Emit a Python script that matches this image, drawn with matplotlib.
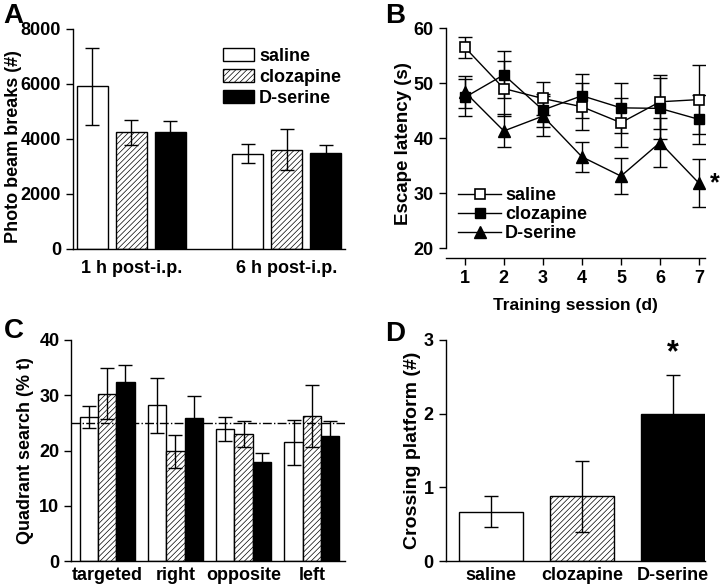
import numpy as np
import matplotlib.pyplot as plt
from matplotlib.lines import Line2D

plt.rcParams['font.family'] = ['Liberation Sans', 'DejaVu Sans']
plt.rcParams['font.weight'] = 'bold'
plt.rcParams['font.size'] = 13
plt.rcParams['axes.labelweight'] = 'bold'
plt.rcParams['hatch.linewidth'] = 0.5
plt.rcParams['axes.linewidth'] = 1.0

groups = ['saline', 'clozapine', 'D-serine']

# panel A
a_times = ['1 h post-i.p.', '6 h post-i.p.']
a_mean = {'saline': [5900, 3460], 'clozapine': [4240, 3600], 'D-serine': [4240, 3470]}
a_err = {'saline': [1410, 340], 'clozapine': [455, 740], 'D-serine': [410, 305]}

# panel B
b_days = [1, 2, 3, 4, 5, 6, 7]
b_saline = [56.5, 49.0, 47.2, 45.7, 42.8, 46.6, 47.0]
b_saline_err = [1.9, 5.0, 3.0, 4.3, 4.4, 4.9, 6.2]
b_cloz = [47.4, 51.5, 45.1, 47.7, 45.5, 45.4, 43.4]
b_cloz_err = [3.3, 4.3, 3.0, 4.0, 4.6, 5.5, 4.5]
b_dser = [48.4, 41.3, 44.0, 36.6, 33.1, 39.2, 31.8]
b_dser_err = [2.9, 3.0, 3.7, 2.7, 3.2, 4.4, 4.4]

# panel C
c_quad = ['targeted', 'right', 'opposite', 'left']
c_mean = {'saline': [26.0, 28.2, 23.9, 21.5], 'clozapine': [30.3, 19.9, 23.0, 26.3],
          'D-serine': [32.3, 25.9, 18.0, 22.6]}
c_err = {'saline': [2.0, 5.0, 2.1, 4.1], 'clozapine': [4.6, 3.0, 2.4, 5.6],
         'D-serine': [3.2, 4.0, 1.5, 2.7]}
chance = 25

# panel D
d_mean = [0.67, 0.88, 2.0]
d_err = [0.21, 0.48, 0.53]

face = {'saline': 'white', 'clozapine': 'white', 'D-serine': 'black'}
hatch = {'saline': None, 'clozapine': '//////', 'D-serine': None}
ekw = dict(fmt='none', ecolor='k', elinewidth=1, capsize=5, capthick=1, zorder=5)


def clean(ax):
    ax.spines['top'].set_visible(False)
    ax.spines['right'].set_visible(False)
    ax.tick_params(direction='out', length=5, width=1, labelsize=13)


def ylab(ax, text, size, xy):
    ax.set_ylabel(text, fontsize=size)
    ax.yaxis.set_label_coords(*xy)
    ax.yaxis.label.set_va('center')


fig = plt.figure(figsize=[7.2, 5.84], dpi=100)

# A
ax1 = fig.add_axes([0.101, 0.574, 0.378, 0.377])
x = np.arange(len(a_times))
for i, g in enumerate(groups):
    xs = x + (i - 1)*0.251
    ax1.bar(xs, a_mean[g], 0.2, color=face[g], edgecolor='k', hatch=hatch[g], linewidth=1, label=g)
    ax1.errorbar(xs, a_mean[g], yerr=a_err[g], **ekw)
ax1.set_xlim(-0.376, 1.373)
ax1.set_ylim(0, 8000)
ax1.set_yticks([0, 2000, 4000, 6000, 8000])
ax1.set_xticks(x)
ax1.set_xticklabels(a_times)
ylab(ax1, 'Photo beam breaks (#)', 13, (-0.219, 0.464))
clean(ax1)
ax1.tick_params(axis='x', length=0, pad=8)
ax1.legend(loc='upper left', bbox_to_anchor=(0.525, 0.945), frameon=False, handlelength=1.7,
           handleheight=0.75, handletextpad=0.3, labelspacing=0.22, fontsize=13, borderaxespad=0)
fig.text(0.005, 0.995, 'A', fontsize=20, fontweight='bold', va='top')

# B
ax2 = fig.add_axes([0.619, 0.575, 0.36, 0.377])
ax2.errorbar(b_days, b_saline, yerr=b_saline_err, **ekw)
ax2.errorbar(b_days, b_cloz, yerr=b_cloz_err, **ekw)
ax2.errorbar(b_days, b_dser, yerr=b_dser_err, **ekw)
ax2.plot(b_days, b_saline, color='k', marker='s', mfc='white', mec='k', ms=7, mew=1.2, lw=1,
         zorder=6)
ax2.plot(b_days, b_cloz, color='k', marker='s', mfc='k', ms=7, lw=1, zorder=6)
ax2.plot(b_days, b_dser, color='k', marker='^', mfc='k', ms=8, lw=1, zorder=6)
ax2.text(7.28, b_dser[-1], '*', fontsize=18, va='center', ha='left')
ax2.set_xlim(0.51, 7.15)
ax2.set_ylim(20, 60)
ax2.set_xticks(b_days)
ax2.set_yticks([20, 30, 40, 50, 60])
ax2.set_xlabel('Training session (d)', fontsize=12.5, labelpad=8)
ylab(ax2, 'Escape latency (s)', 13.5, (-0.162, 0.475))
clean(ax2)
ax2.spines['bottom'].set_position(('outward', 7))
ax2.spines['left'].set_bounds(20, 60)
handles = [Line2D([], [], color='k', marker='s', mfc='white', ms=7, mew=1.2, lw=1),
           Line2D([], [], color='k', marker='s', mfc='k', ms=7, lw=1),
           Line2D([], [], color='k', marker='^', mfc='k', ms=8, lw=1)]
ax2.legend(handles, groups, loc='lower left', bbox_to_anchor=(0.02, -0.005), frameon=False,
           handlelength=2.4, handletextpad=0.2, labelspacing=0.1, fontsize=13, borderaxespad=0)
fig.text(0.535, 0.995, 'B', fontsize=20, fontweight='bold', va='top')

# C
ax3 = fig.add_axes([0.099, 0.039, 0.38, 0.379])
x = np.arange(len(c_quad))
for i, g in enumerate(groups):
    xs = x + (i - 1)*0.268
    ax3.bar(xs, c_mean[g], 0.268, color=face[g], edgecolor='k', hatch=hatch[g], linewidth=1)
    ax3.errorbar(xs, c_mean[g], yerr=c_err[g], **ekw)
ax3.axhline(chance, color='k', lw=1, ls='-.', zorder=6)
ax3.set_xlim(-0.527, 3.485)
ax3.set_ylim(0, 40)
ax3.set_yticks([0, 10, 20, 30, 40])
ax3.set_xticks(x)
ax3.set_xticklabels(c_quad)
ylab(ax3, 'Quadrant search (% t)', 13, (-0.168, 0.498))
clean(ax3)
ax3.tick_params(axis='x', length=0, pad=4)
fig.text(0.005, 0.455, 'C', fontsize=20, fontweight='bold', va='top')

# D
ax4 = fig.add_axes([0.619, 0.039, 0.36, 0.379])
x = np.arange(len(groups))
for i, g in enumerate(groups):
    ax4.bar(x[i], d_mean[i], 0.70, color=face[g], edgecolor='k', hatch=hatch[g], linewidth=1)
ax4.errorbar(x, d_mean, yerr=d_err, **ekw)
ax4.text(x[2], d_mean[2] + d_err[2] + 0.08, '*', fontsize=22, ha='center', va='bottom')
ax4.set_xlim(-0.495, 2.35)
ax4.set_ylim(0, 3)
ax4.set_yticks([0, 1, 2, 3])
ax4.set_xticks(x)
ax4.set_xticklabels(groups)
ylab(ax4, 'Crossing platform (#)', 14, (-0.127, 0.502))
clean(ax4)
ax4.tick_params(axis='x', length=0, pad=4)
fig.text(0.535, 0.450, 'D', fontsize=20, fontweight='bold', va='top')

plt.savefig('out.png', dpi=100)
